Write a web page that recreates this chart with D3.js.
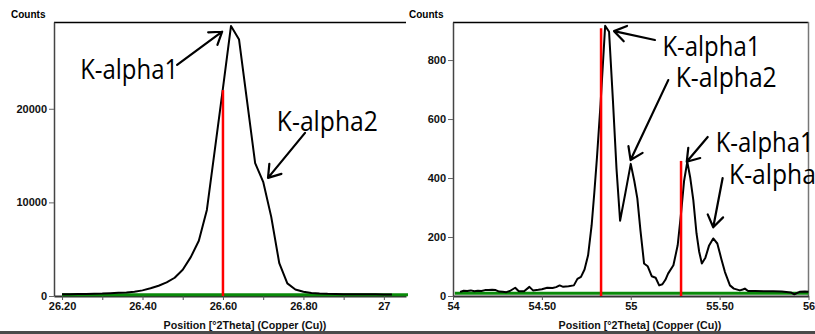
<!DOCTYPE html>
<html>
<head>
<meta charset="utf-8">
<script src="https://cdn.jsdelivr.net/npm/d3@7"></script>
<style>
  body { margin: 0; background: #fff; }
  svg { display: block; }
  .tick text { font-family: "Liberation Sans", Arial, sans-serif; font-weight: bold; font-size: 11px; fill: #111; }
  .axis-title { font-family: "Liberation Sans", Arial, sans-serif; font-weight: bold; font-size: 10.7px; fill: #111; }
  .note { font-family: "Comic Sans MS", "Open Sans", sans-serif; font-size: 28px; fill: #000; }
</style>
</head>
<body>
<div id="chart"></div>
<script>
// left panel: scan around 26.6 deg
const leftTheta = [26.20, 26.22, 26.24, 26.26, 26.28, 26.30, 26.32, 26.34, 26.36, 26.38,
  26.40, 26.42, 26.44, 26.46, 26.48, 26.50, 26.52, 26.54, 26.56, 26.58,
  26.60, 26.62, 26.64, 26.66, 26.68, 26.70, 26.72, 26.74, 26.76, 26.78,
  26.80, 26.82, 26.84, 26.86, 26.88, 26.90, 26.92, 26.94, 26.96, 26.98, 27.00, 27.02];
const leftCounts = [200, 200, 210, 220, 240, 260, 300, 340, 380, 450,
  600, 830, 1100, 1450, 1950, 2800, 4150, 5900, 9200, 15700,
  22200, 28850, 27400, 20800, 14200, 12200, 8450, 3500, 1350, 700,
  450, 330, 270, 230, 210, 200, 190, 180, 180, 180, 170, 170];
const leftStickTheta = [26.60];
const leftStickCounts = [22000];
const leftBackground = [[26.20, 130], [27.06, 130]];
const leftTickValues = [26.2, 26.3, 26.4, 26.5, 26.6, 26.7, 26.8, 26.9, 27.0];
const leftTickLabels = ["26.20", "", "26.40", "", "26.60", "", "26.80", "", "27"];
const leftYTicks = [0, 10000, 20000];

// right panel: scan 54 - 56 deg
const rightTheta = [54.04, 54.06, 54.08, 54.10, 54.12, 54.14, 54.16, 54.18, 54.20, 54.22,
  54.24, 54.26, 54.28, 54.30, 54.32, 54.35, 54.37, 54.40, 54.43, 54.45,
  54.48, 54.50, 54.53, 54.56, 54.58, 54.60, 54.62, 54.65, 54.68, 54.70,
  54.72, 54.74, 54.76, 54.78, 54.795, 54.81, 54.83, 54.856, 54.878, 54.90,
  54.92, 54.94, 54.97, 55.00, 55.02, 55.037, 55.055, 55.075, 55.095, 55.118,
  55.14, 55.16, 55.178, 55.195, 55.21, 55.24, 55.264, 55.283, 55.30, 55.318,
  55.335, 55.352, 55.37, 55.385, 55.40, 55.42, 55.44, 55.464, 55.487, 55.51,
  55.53, 55.558, 55.58, 55.614, 55.63, 55.642, 55.66, 55.70, 55.75, 55.80,
  55.85, 55.90, 55.92, 55.95, 55.98, 56.00];
const rightCounts = [14, 18, 17, 19, 16, 18, 17, 20, 20, 21,
  20, 15, 14, 13, 17, 28, 16, 16, 31, 19,
  21, 23, 28, 27, 30, 36, 31, 33, 36, 58,
  65, 90, 138, 240, 350, 470, 650, 916, 896, 660,
  430, 255, 350, 448, 390, 331, 220, 110, 101, 67,
  62, 36, 40, 55, 76, 104, 172, 280, 390, 455,
  400, 325, 212, 150, 110, 130, 170, 195, 178, 125,
  81, 36, 25, 19, 22, 25, 17, 17, 16, 16,
  15, 12, 6, 14, 15, 14];
const rightStickTheta = [54.833, 55.283];
const rightStickCounts = [908, 458];
const rightBackground = [[54.01, 9], [56.0, 9]];
const rightTickValues = [54, 54.5, 55, 55.5, 56];
const rightTickLabels = ["54", "54.50", "55", "55.50", "56"];
const rightYTicks = [0, 200, 400, 600, 800];

// annotations: text anchor and arrow tail/tip in data units
const leftNotes = [
  { text: "K-alpha1", at: [26.245, 23200], tail: [26.486, 24700], tip: [26.598, 28230] },
  { text: "K-alpha2", at: [26.734, 17650], tail: [26.804, 17430], tip: [26.712, 12620] },
];
const rightNotes = [
  { text: "K-alpha1", at: [55.178, 814], tail: [55.136, 868], tip: [54.906, 898] },
  { text: "K-alpha2", at: [55.253, 708], tail: [55.211, 732], tip: [54.999, 461] },
  { text: "K-alpha1", at: [55.478, 489], tail: [55.433, 539], tip: [55.315, 455] },
  { text: "K-alpha2", at: [55.553, 380], tail: [55.517, 400], tip: [55.464, 233] },
];

const width = 815;
const height = 334;
const plotTop = 22;
const plotBottom = 296;

const svg = d3.select('#chart')
  .append('svg')
  .attr('width', width)
  .attr('height', height);

svg.append('rect').attr('width', width).attr('height', height).attr('fill', '#fff');

function drawPanel(p) {
  const x = d3.scaleLinear().domain(p.xDomain).range([p.left, p.right]);
  const y = d3.scaleLinear().domain(p.yDomain).range([plotBottom, plotTop]);
  const g = svg.append('g');

  // frame
  g.append('line')
    .attr('x1', p.left).attr('x2', p.right)
    .attr('y1', plotTop + 0.5).attr('y2', plotTop + 0.5)
    .attr('stroke', '#000').attr('stroke-width', 1.3);
  if (p.rightBorder) {
    g.append('line')
      .attr('x1', p.right).attr('x2', p.right)
      .attr('y1', plotTop).attr('y2', plotBottom)
      .attr('stroke', '#777').attr('stroke-width', 1.5);
  }

  // y axis
  const yAxis = g.append('g')
    .attr('transform', `translate(${p.left},0)`)
    .call(d3.axisLeft(y).tickValues(p.yTicks).tickSize(5).tickSizeOuter(0).tickPadding(2)
      .tickFormat(d3.format('d')));
  yAxis.select('.domain').attr('stroke', '#444').attr('stroke-width', 1.5);
  yAxis.selectAll('.tick line').attr('stroke', '#666');

  // x axis
  const xAxis = g.append('g')
    .attr('transform', `translate(0,${plotBottom})`)
    .call(d3.axisBottom(x).tickValues(p.xTicks).tickSize(4).tickSizeOuter(0).tickPadding(2)
      .tickFormat((d, i) => p.xLabels[i]));
  xAxis.select('.domain').attr('stroke', '#333').attr('stroke-width', 2);
  xAxis.selectAll('.tick line').attr('stroke', '#555');

  svg.append('text')
    .attr('class', 'tick')
    .attr('x', p.countsX).attr('y', 18)
    .style('font-family', '"Liberation Sans", Arial, sans-serif')
    .style('font-weight', 'bold').style('font-size', '10px')
    .text('Counts');

  svg.append('text')
    .attr('class', 'axis-title')
    .attr('x', p.titleX).attr('y', 329)
    .attr('text-anchor', 'middle')
    .text('Position [°2Theta] (Copper (Cu))');

  // background line
  g.append('path')
    .datum(p.background)
    .attr('fill', 'none')
    .attr('stroke', '#0a8a0a')
    .attr('stroke-width', 3)
    .attr('d', d3.line().x(d => x(d[0])).y(d => y(d[1])));

  // measured profile
  g.append('path')
    .datum(d3.zip(p.theta, p.counts))
    .attr('fill', 'none')
    .attr('stroke', '#000')
    .attr('stroke-width', 2)
    .attr('stroke-linejoin', 'round')
    .attr('d', d3.line().x(d => x(d[0])).y(d => y(d[1])));

  // reference sticks
  g.selectAll('.stick')
    .data(d3.zip(p.stickTheta, p.stickCounts))
    .join('line')
    .attr('class', 'stick')
    .attr('x1', d => x(d[0])).attr('x2', d => x(d[0]))
    .attr('y1', y(0)).attr('y2', d => y(d[1]))
    .attr('stroke', '#ff0000')
    .attr('stroke-width', 2.5);

  // annotations
  p.notes.forEach(n => {
    svg.append('text')
      .attr('class', 'note')
      .attr('x', x(n.at[0])).attr('y', y(n.at[1]))
      .attr('textLength', n.text.endsWith('2') ? 101 : 98)
      .attr('lengthAdjust', 'spacingAndGlyphs')
      .text(n.text);
    const tx = x(n.tip[0]), ty = y(n.tip[1]);
    const sx = x(n.tail[0]), sy = y(n.tail[1]);
    const ang = Math.atan2(sy - ty, sx - tx);
    const len = 14, spread = 34 * Math.PI / 180;
    const head = [ang - spread, ang + spread].map(a => [tx + len * Math.cos(a), ty + len * Math.sin(a)]);
    svg.append('path')
      .attr('fill', 'none')
      .attr('stroke', '#000')
      .attr('stroke-width', 2.2)
      .attr('stroke-linecap', 'round')
      .attr('stroke-linejoin', 'round')
      .attr('d', `M${sx},${sy}L${tx},${ty}M${head[0][0]},${head[0][1]}L${tx},${ty}L${head[1][0]},${head[1][1]}`);
  });
}

drawPanel({
  left: 54, right: 406, xDomain: [26.18, 27.055], yDomain: [0, 29270],
  theta: leftTheta, counts: leftCounts,
  stickTheta: leftStickTheta, stickCounts: leftStickCounts,
  background: leftBackground,
  xTicks: leftTickValues, xLabels: leftTickLabels, yTicks: leftYTicks,
  notes: leftNotes, rightBorder: false, countsX: 11, titleX: 245,
});

drawPanel({
  left: 453, right: 808.5, xDomain: [54, 56], yDomain: [0, 929],
  theta: rightTheta, counts: rightCounts,
  stickTheta: rightStickTheta, stickCounts: rightStickCounts,
  background: rightBackground,
  xTicks: rightTickValues, xLabels: rightTickLabels, yTicks: rightYTicks,
  notes: rightNotes, rightBorder: true, countsX: 409, titleX: 640,
});

// bottom window edge
svg.append('rect').attr('x', 0).attr('y', 331).attr('width', width).attr('height', 3).attr('fill', '#4a4a4a');
</script>
</body>
</html>
